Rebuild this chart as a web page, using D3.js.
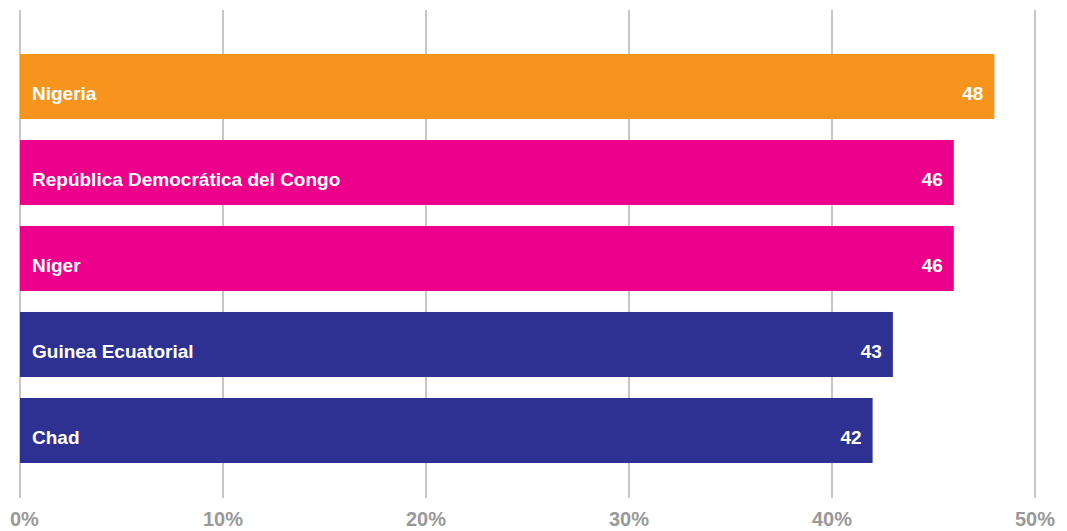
<!DOCTYPE html>
<html><head><meta charset="utf-8">
<script src="https://cdn.jsdelivr.net/npm/d3@7"></script>
<style>body{margin:0;background:#fff}svg{display:block}</style>
</head><body>
<svg id="c" width="1067" height="531"></svg>
<script>
const categories = ["Nigeria","República Democrática del Congo","Níger","Guinea Ecuatorial","Chad"];
const values = [48,46,46,43,42];
const colors = ["#F7941E","#EC008C","#EC008C","#2E3192","#2E3192"];
const ticks = [0,10,20,30,40,50];
const tickLabels = ["0%","10%","20%","30%","40%","50%"];

const data = categories.map((c,i)=>({c, v: values[i], col: colors[i]}));
const svg = d3.select("#c");
const font = "'Liberation Sans', Arial, Helvetica, sans-serif";
const x = d3.scaleLinear().domain([0,50]).range([20,1035]);
const y = d3.scaleBand().domain(categories).range([54,463]).paddingInner(0.244).paddingOuter(0);

// gridlines
svg.append("g").selectAll("line").data(ticks).join("line")
  .attr("x1",d=>x(d)).attr("x2",d=>x(d)).attr("y1",10).attr("y2",498)
  .attr("stroke","#b3b3b3").attr("stroke-width",1.5);

// bars
const g = svg.append("g");
g.selectAll("rect").data(data).join("rect")
  .attr("x",x(0)).attr("y",d=>y(d.c)).attr("width",d=>x(d.v)-x(0)).attr("height",y.bandwidth())
  .attr("fill",d=>d.col);
g.selectAll("text.lab").data(data).join("text").attr("class","lab")
  .attr("x",32).attr("y",d=>y(d.c)+46).attr("fill","#fff")
  .attr("font-family",font).attr("font-weight",700).attr("font-size",19).text(d=>d.c);
g.selectAll("text.val").data(data).join("text").attr("class","val")
  .attr("x",d=>x(d.v)-11).attr("y",d=>y(d.c)+46).attr("fill","#fff").attr("text-anchor","end")
  .attr("font-family",font).attr("font-weight",700).attr("font-size",19).text(d=>d.v);

// tick labels
svg.append("g").selectAll("text").data(ticks).join("text")
  .attr("x",(d,i)=> i===0 ? 10 : x(d)).attr("y",526)
  .attr("text-anchor",(d,i)=> i===0?"start":"middle")
  .attr("fill","#999").attr("font-family",font).attr("font-weight",700).attr("font-size",20)
  .text((d,i)=>tickLabels[i]);
</script>
</body></html>
